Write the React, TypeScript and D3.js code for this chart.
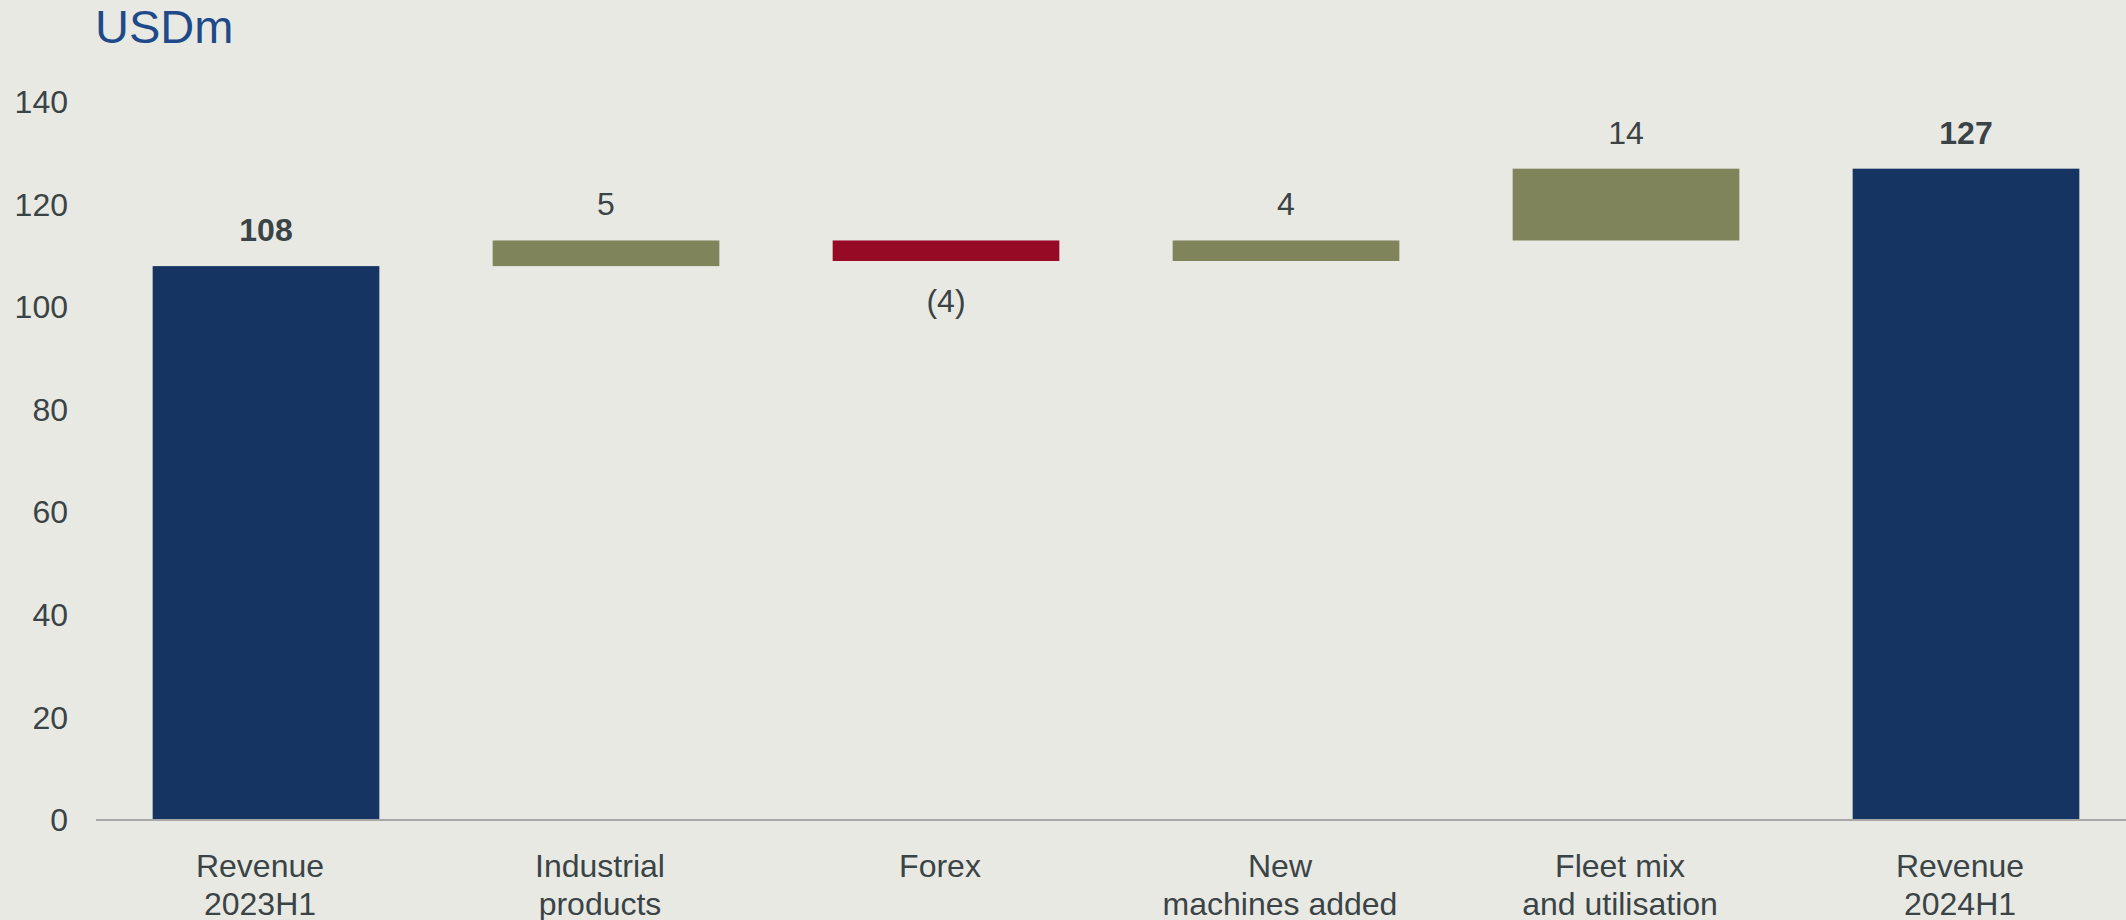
import React from "react";
import * as d3 from "d3";

const categories: string[][] = [
  ["Revenue", "2023H1"],
  ["Industrial", "products"],
  ["Forex"],
  ["New", "machines added"],
  ["Fleet mix", "and utilisation"],
  ["Revenue", "2024H1"],
];
const values: number[] = [108, 5, -4, 4, 14, 127];
const kinds: string[] = ["total", "delta", "delta", "delta", "delta", "total"];
const valueLabels: string[] = ["108", "5", "(4)", "4", "14", "127"];
const yTicks: number[] = [0, 20, 40, 60, 80, 100, 120, 140];

const W = 2126;
const H = 920;
const BG = "#e9e9e3";
const NAVY = "#163461";
const OLIVE = "#7f845b";
const RED = "#960a26";
const TEXT = "#3a4446";
const FONT = "'Liberation Sans', Arial, sans-serif";

export default function App() {
  const x = d3
    .scaleBand<number>()
    .domain(categories.map((_, i) => i))
    .range([96, 2136])
    .paddingInner(1 / 3)
    .paddingOuter(1 / 6);
  const y = d3.scaleLinear().domain([0, 140]).range([820, 102]);

  let run = 0;
  const bars = values.map((v, i) => {
    let lo: number, hi: number;
    if (kinds[i] === "total") {
      lo = 0;
      hi = v;
      run = v;
    } else {
      const start = run;
      run = run + v;
      lo = Math.min(start, run);
      hi = Math.max(start, run);
    }
    const color = kinds[i] === "total" ? NAVY : v >= 0 ? OLIVE : RED;
    return { i, v, lo, hi, color, kind: kinds[i] };
  });

  return (
    <svg
      width={W}
      height={H}
      style={{ position: "absolute", left: 0, top: 0, display: "block" }}
      fontFamily={FONT}
    >
      <rect x={0} y={0} width={W} height={H} fill={BG} />
      <text x={95} y={43} fontSize={47} fill="#1f4a8a">
        USDm
      </text>
      {yTicks.map((t) => (
        <text
          key={t}
          x={68}
          y={y(t)}
          dy="0.35em"
          textAnchor="end"
          fontSize={32}
          fill={TEXT}
        >
          {t}
        </text>
      ))}
      {bars.map((b) => (
        <rect
          key={b.i}
          x={x(b.i)}
          y={y(b.hi)}
          width={x.bandwidth()}
          height={y(b.lo) - y(b.hi)}
          fill={b.color}
        />
      ))}
      <line x1={96} x2={W} y1={y(0)} y2={y(0)} stroke="#a8a8a8" strokeWidth={2} />
      {bars.map((b) => {
        const cx = (x(b.i) as number) + x.bandwidth() / 2;
        const below = b.v < 0;
        const yy = below ? y(b.lo) + 51 : y(b.hi) - 25;
        return (
          <text
            key={"l" + b.i}
            x={cx}
            y={yy}
            textAnchor="middle"
            fontSize={32}
            fontWeight={b.kind === "total" ? "bold" : "normal"}
            fill={TEXT}
          >
            {valueLabels[b.i]}
          </text>
        );
      })}
      {categories.map((lines, i) => {
        const cx = (x(i) as number) + x.bandwidth() / 2 - 6;
        return (
          <text key={"c" + i} x={cx} y={877} textAnchor="middle" fontSize={32} fill={TEXT}>
            {lines.map((ln, j) => (
              <tspan key={j} x={cx} dy={j === 0 ? 0 : 38}>
                {ln}
              </tspan>
            ))}
          </text>
        );
      })}
    </svg>
  );
}
